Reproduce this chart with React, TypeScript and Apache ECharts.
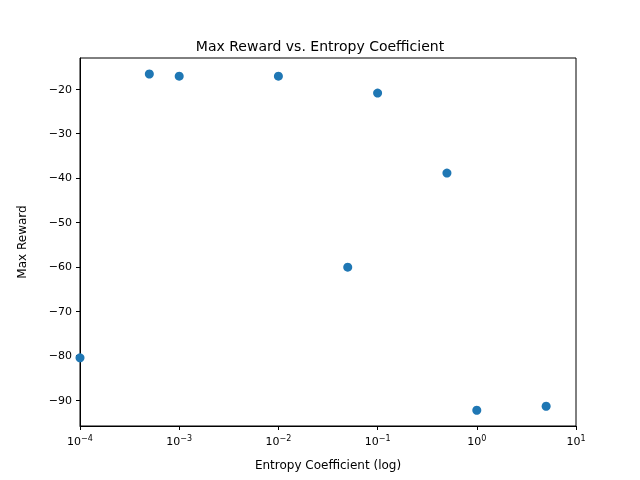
import React, { useEffect, useRef } from "react";
import * as echarts from "echarts";

const xValues = [1e-4, 5e-4, 1e-3, 1e-2, 0.05, 0.1, 0.5, 1, 5];
const yValues = [-80.5, -16.6, -17.1, -17.1, -60.1, -20.9, -38.9, -92.3, -91.4];
const yTicks = [-90, -80, -70, -60, -50, -40, -30, -20];

export default function App() {
  const ref = useRef<HTMLDivElement>(null);
  useEffect(() => {
    const chart = echarts.init(ref.current!, null, { renderer: "svg" });
    const font = "DejaVu Sans";
    chart.setOption({
      animation: false,
      textStyle: { fontFamily: font },
      title: {
        text: "Max Reward vs. Entropy Coefficient",
        left: "center",
        top: 34,
        textStyle: { fontSize: 14, fontWeight: "normal", color: "#000", fontFamily: font },
      },
      grid: { left: 80, right: 64, top: 58, bottom: 54, show: true, borderColor: "#000", borderWidth: 1 },
      xAxis: {
        type: "log",
        logBase: 10,
        min: 1e-4,
        max: 10,
        name: "Entropy Coefficient (log)",
        nameLocation: "middle",
        nameGap: 33,
        nameTextStyle: { fontSize: 12, color: "#000" },
        axisLine: { lineStyle: { color: "#000" } },
        axisTick: { lineStyle: { color: "#000" }, length: 4 },
        splitLine: { show: false },
        axisLabel: {
          color: "#000",
          fontSize: 11,
          margin: 8,
          formatter: (v: number) => "{b|10}{s|" + String(Math.round(Math.log10(v))).replace("-", "−") + "}",
          rich: {
            b: { fontSize: 11, color: "#000", fontFamily: font },
            s: { fontSize: 8, color: "#000", fontFamily: font, verticalAlign: "top", padding: [0, 0, 6, 0] },
          },
        },
      },
      yAxis: {
        type: "value",
        min: -95.85,
        max: -13,
        name: "Max Reward",
        nameLocation: "middle",
        nameGap: 52,
        nameTextStyle: { fontSize: 12, color: "#000" },
        axisLine: { show: true, lineStyle: { color: "#000" } },
        axisTick: { show: true, customValues: yTicks, lineStyle: { color: "#000" }, length: 4 },
        splitLine: { show: false },
        axisLabel: {
          color: "#000",
          fontSize: 11,
          customValues: yTicks,
          formatter: (v: number) => String(v).replace("-", "−"),
        },
      },
      series: [
        {
          type: "scatter",
          symbolSize: 9,
          itemStyle: { color: "#1f77b4", opacity: 1 },
          data: xValues.map((x, i) => [x, yValues[i]]),
        },
      ],
    });
    return () => chart.dispose();
  }, []);
  return <div ref={ref} style={{ position: "fixed", left: 0, top: 0, width: 640, height: 480 }} />;
}
